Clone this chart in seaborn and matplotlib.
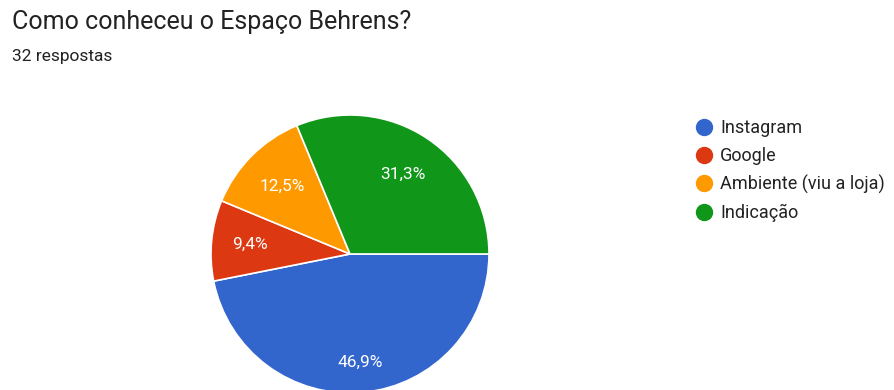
import matplotlib
matplotlib.use("Agg")
import matplotlib.pyplot as plt
from matplotlib.lines import Line2D
import numpy as np
import seaborn as sns
from decimal import Decimal, ROUND_HALF_UP

categories = ["Instagram", "Google", "Ambiente (viu a loja)", "Indicação"]
counts = [15, 3, 4, 10]
colors_hex = ["#3366cc", "#dc3912", "#ff9900", "#109618"]
title = "Como conheceu o Espaço Behrens?"
subtitle = "32 respostas"

sns.set_theme(style="white")
plt.rcParams["font.family"] = ["Roboto", "DejaVu Sans"]
palette = sns.color_palette(colors_hex)

W, H = 895, 390
fig = plt.figure(figsize=(W / 100, H / 100), dpi=100)
fig.patch.set_facecolor("white")

cx, cy, r = 350, 254, 139
ax = fig.add_axes([(cx - r) / W, (H - cy - r) / H, 2 * r / W, 2 * r / H])


def fmt(p):
    d = Decimal(str(round(p, 6))).quantize(Decimal("0.1"), rounding=ROUND_HALF_UP)
    return f"{d}%".replace(".", ",")


wedges, texts, autotexts = ax.pie(
    counts,
    colors=palette,
    startangle=0,
    counterclock=False,
    autopct=fmt,
    pctdistance=0.7,
    wedgeprops=dict(edgecolor="white", linewidth=1.2),
    textprops=dict(color="white", fontsize=12.5),
)
label_dist = [0.78, 0.72, 0.69, 0.69]
for w, t, dist in zip(wedges, autotexts, label_dist):
    ang = np.deg2rad((w.theta1 + w.theta2) / 2)
    t.set_position((dist * np.cos(ang), dist * np.sin(ang)))

ax.set_xlim(-1, 1)
ax.set_ylim(-1, 1)
ax.set_aspect("equal")
ax.axis("off")

fig.text(12 / W, 1 - 22 / H, title, fontsize=18, color="#222222",
         ha="left", va="center")
fig.text(12 / W, 1 - 56 / H, subtitle, fontsize=12.5, color="#222222",
         ha="left", va="center")

handles = [Line2D([], [], marker="o", linestyle="", markersize=11.5,
                  markerfacecolor=c, markeredgecolor=c) for c in palette]
fig.legend(handles, categories, loc="upper left",
           bbox_to_anchor=(683 / W, 1 - 110 / H), frameon=False,
           fontsize=13, labelspacing=0.55, handletextpad=0.25,
           handlelength=1.3, borderpad=0, labelcolor="#222222")

fig.savefig("out.png", dpi=100, facecolor="white")
